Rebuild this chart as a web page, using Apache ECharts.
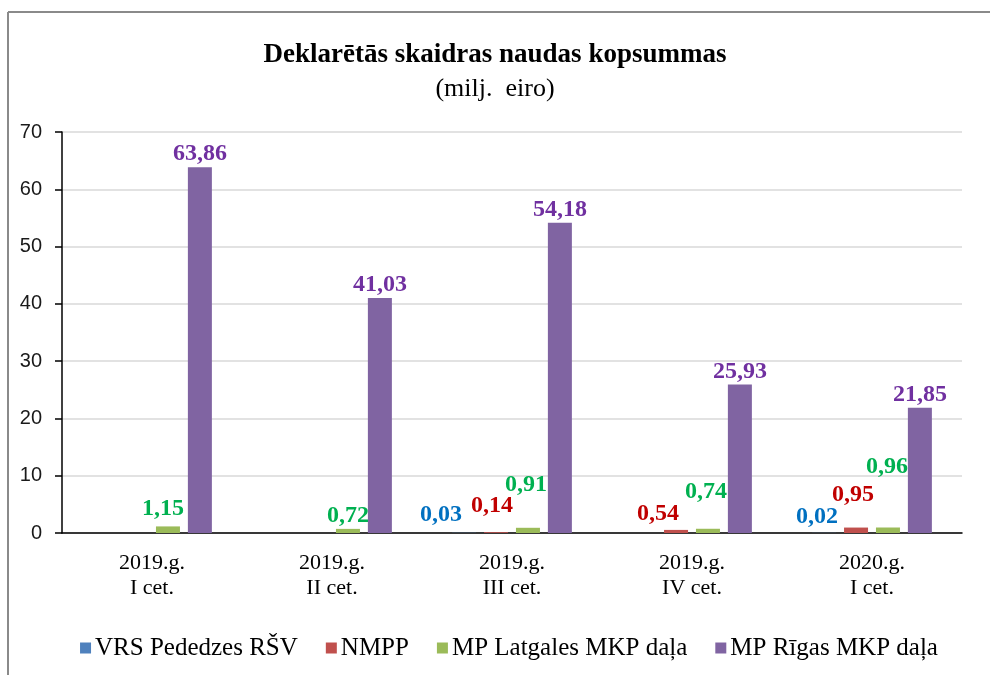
<!DOCTYPE html>
<html>
<head>
<meta charset="utf-8">
<script src="https://cdn.jsdelivr.net/npm/echarts@6/dist/echarts.min.js"></script>
<style>
  html, body { margin: 0; padding: 0; background: #fff; }
  #chart { width: 990px; height: 675px; }
</style>
</head>
<body>
<div id="chart"></div>
<script>
// dati
var categories = ['2019.g.\nI cet.', '2019.g.\nII cet.', '2019.g.\nIII cet.', '2019.g.\nIV cet.', '2020.g.\nI cet.'];
var seriesNames = ['VRS Pededzes RŠV', 'NMPP', 'MP Latgales MKP daļa', 'MP Rīgas MKP daļa'];
var vrsPededzes = [null, null, 0.03, null, 0.02];
var nmpp = [null, null, 0.14, 0.54, 0.95];
var mpLatgales = [1.15, 0.72, 0.91, 0.74, 0.96];
var mpRigas = [63.86, 41.03, 54.18, 25.93, 21.85];
var yTicks = [0, 10, 20, 30, 40, 50, 60, 70];

var barColors = ['#4F81BD', '#C0504D', '#9BBB59', '#8064A2'];
var labelColors = ['#0070C0', '#C00000', '#00B050', '#7030A0'];

// label nobīdes (lai neuzklājas), [dx, dy] katrai kategorijai
var shiftVrs = [[0, 0], [0, 0], [-23, -5], [0, 0], [-7, -3]];
var shiftNmpp = [[0, 0], [0, 0], [-4, -13], [-18, -3], [-3, -20]];
var shiftLatg = [[-5, -5], [0, 0], [-2, -30], [-2, -24], [-1, -48]];
var shiftRigas = [[0, 0], [0, 0], [0, 0], [0, 0], [0, 0]];

var SERIF = 'Liberation Serif';

function fmt(p) {
  return p.value.toFixed(2).replace('.', ',');
}

function makeSeries(idx, values, shifts) {
  return {
    name: seriesNames[idx],
    type: 'bar',
    barWidth: 24,
    barGap: '33%',
    itemStyle: { color: barColors[idx] },
    label: {
      show: true,
      position: 'top',
      distance: 1,
      formatter: fmt,
      color: labelColors[idx],
      fontFamily: SERIF,
      fontWeight: 'bold',
      fontSize: 24
    },
    data: values.map(function (v, i) {
      if (v == null) return '-';
      return { value: v, label: { offset: shifts[i] } };
    })
  };
}

// legenda ar serif fontu (iebūvētā legenda nepaņem fontFamily)
function buildLegend() {
  var fontSize = 25, box = 11, pad = 4, gap = 28, cy = 648, center = 509;
  var ctx = document.createElement('canvas').getContext('2d');
  ctx.font = fontSize + 'px "' + SERIF + '"';
  var widths = seriesNames.map(function (n) { return ctx.measureText(n).width; });
  var total = 0;
  widths.forEach(function (w) { total += box + pad + w; });
  total += gap * (seriesNames.length - 1);
  var x = center - total / 2;
  var els = [];
  seriesNames.forEach(function (n, i) {
    els.push({ type: 'rect', shape: { x: x, y: cy - box / 2, width: box, height: box }, style: { fill: barColors[i] } });
    els.push({
      type: 'text', x: x + box + pad, y: cy,
      style: { text: n, fill: '#000', font: fontSize + 'px "' + SERIF + '"', verticalAlign: 'middle', align: 'left' }
    });
    x += box + pad + widths[i] + gap;
  });
  return els;
}

var chart = echarts.init(document.getElementById('chart'));
chart.setOption({
  animation: false,
  backgroundColor: '#fff',
  textStyle: { fontFamily: SERIF },
  title: {
    text: 'Deklarētās skaidras naudas kopsummas',
    subtext: '(milj.  eiro)',
    left: 'center',
    top: 37,
    itemGap: 7,
    textStyle: { fontFamily: SERIF, fontWeight: 'bold', fontSize: 27, color: '#000' },
    subtextStyle: { fontFamily: SERIF, fontSize: 26, color: '#000' }
  },
  graphic: [
    { type: 'line', shape: { x1: 8, y1: 12, x2: 990, y2: 12 }, style: { stroke: '#8a8a8a', lineWidth: 2 } },
    { type: 'line', shape: { x1: 8, y1: 12, x2: 8, y2: 675 }, style: { stroke: '#8a8a8a', lineWidth: 2 } }
  ].concat(buildLegend()),
  legend: { show: false },
  grid: { left: 62, right: 28, top: 132, bottom: 142, containLabel: false },
  xAxis: {
    type: 'category',
    data: categories,
    axisLine: { lineStyle: { color: '#000', width: 1.5 } },
    axisTick: { show: false },
    axisLabel: {
      fontFamily: SERIF,
      fontSize: 22,
      lineHeight: 25,
      color: '#000',
      margin: 18
    }
  },
  yAxis: {
    type: 'value',
    min: yTicks[0],
    max: yTicks[yTicks.length - 1],
    interval: 10,
    axisLine: { show: true, lineStyle: { color: '#000', width: 1.5 } },
    axisTick: { show: true, length: 7, lineStyle: { color: '#000', width: 1.5 } },
    axisLabel: {
      fontFamily: 'Liberation Sans',
      fontSize: 20,
      color: '#1a1a1a',
      margin: 20
    },
    splitLine: { lineStyle: { color: '#d9d9d9', width: 1.5 } }
  },
  series: [
    makeSeries(0, vrsPededzes, shiftVrs),
    makeSeries(1, nmpp, shiftNmpp),
    makeSeries(2, mpLatgales, shiftLatg),
    makeSeries(3, mpRigas, shiftRigas)
  ]
});
</script>
</body>
</html>
